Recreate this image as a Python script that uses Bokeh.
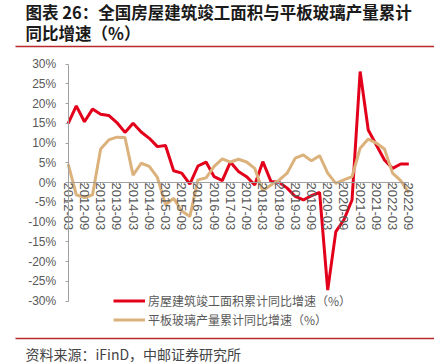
from bokeh.plotting import figure
from bokeh.models import Range1d, FixedTicker, Legend, LegendItem, Label, BoxAnnotation
from bokeh.embed import file_html
from bokeh.resources import INLINE

quarters = ["2012-03", "2012-06", "2012-09", "2012-12", "2013-03", "2013-06", "2013-09", "2013-12",
            "2014-03", "2014-06", "2014-09", "2014-12", "2015-03", "2015-06", "2015-09", "2015-12",
            "2016-03", "2016-06", "2016-09", "2016-12", "2017-03", "2017-06", "2017-09", "2017-12",
            "2018-03", "2018-06", "2018-09", "2018-12", "2019-03", "2019-06", "2019-09", "2019-12",
            "2020-03", "2020-06", "2020-09", "2020-12", "2021-03", "2021-06", "2021-09", "2021-12",
            "2022-03", "2022-06", "2022-09"]

completion = [15.0, 19.4, 15.4, 18.6, 17.3, 17.0, 15.2, 12.7,
              15.0, 12.8, 11.2, 9.1, 9.4, 3.0, 2.4, -0.4,
              4.2, 5.2, 1.5, 0.5, 5.2, 2.8, 1.5, -0.6,
              5.3, 0.3, 0.1, -1.4, -3.5, -4.4, -3.3, -2.5,
              -27.2, -12.4, -9.4, -4.4, 28.1, 13.3, 9.5, 5.7,
              3.6, 4.7, 4.7]

glass = [4.7, -3.1, -3.8, -3.1, 8.5, 10.8, 11.5, 11.4,
         1.9, 4.9, 4.1, 1.3, -5.6, -4.0, -7.2, -8.6,
         0.7, 1.2, 4.1, 6.0, 5.2, 5.9, 5.2, 3.6,
         -2.1, -0.6, 0.6, 2.4, 6.2, 7.0, 5.5, 6.8,
         2.4, -0.2, 0.7, 1.5, 8.7, 11.0, 10.0, 8.5,
         2.4, 0.5, -2.6]

x_tick_labels = ["2012-03", "2012-09", "2013-03", "2013-09", "2014-03", "2014-09", "2015-03", "2015-09",
                 "2016-03", "2016-09", "2017-03", "2017-09", "2018-03", "2018-09", "2019-03", "2019-09",
                 "2020-03", "2020-09", "2021-03", "2021-09", "2022-03", "2022-09"]
y_ticks = [-30, -25, -20, -15, -10, -5, 0, 5, 10, 15, 20, 25, 30]
y_tick_labels = ["-30%", "-25%", "-20%", "-15%", "-10%", "-5%", "0%", "5%", "10%", "15%", "20%", "25%", "30%"]

series_names = ["房屋建筑竣工面积累计同比增速（%）", "平板玻璃产量累计同比增速（%）"]
title_lines = ["图表 26：全国房屋建筑竣工面积与平板玻璃产量累计", "同比增速（%）"]
source_text = "资料来源：iFinD，中邮证券研究所"

W, H = 434, 362
# pixel layout of the chart area inside the canvas
AX_LEFT, AX_RIGHT = 67.7, 408.3     # x of first / last quarter
AX_TOP, AX_BOTTOM = 63.5, 300.7     # y of 30% / -30%
n = len(quarters) - 1
ppx = (AX_RIGHT - AX_LEFT) / n
ppy = (AX_BOTTOM - AX_TOP) / (y_ticks[-1] - y_ticks[0])
x_range = Range1d(-AX_LEFT / ppx, n + (W - AX_RIGHT) / ppx)
y_range = Range1d(y_ticks[0] - (H - AX_BOTTOM) / ppy, y_ticks[-1] + AX_TOP / ppy)

xs = list(range(len(quarters)))

p = figure(width=W, height=H, output_backend="svg", toolbar_location=None,
           x_range=x_range, y_range=y_range,
           min_border_left=0, min_border_right=0, min_border_top=0, min_border_bottom=0)
p.outline_line_color = None
p.grid.visible = False

r1 = p.line(xs, completion, line_color="#E3001B", line_width=3)
r2 = p.line(xs, glass, line_color="#DCB27C", line_width=3)

# y axis at x = first quarter
yax = p.yaxis[0]
yax.fixed_location = 0
yax.bounds = (y_ticks[0], y_ticks[-1])
yax.ticker = FixedTicker(ticks=y_ticks)
yax.major_label_overrides = {t: l for t, l in zip(y_ticks, y_tick_labels)}
yax.axis_line_color = "#A0A0A0"
yax.major_tick_line_color = "#A0A0A0"
yax.major_tick_out = 3
yax.major_tick_in = 0
yax.minor_tick_line_color = None
yax.major_label_text_font = "Liberation Sans"
yax.major_label_text_font_size = "12px"
yax.major_label_text_color = "#595959"
yax.major_label_standoff = 9

# x axis at zero
xax = p.xaxis[0]
x_tick_pos = [quarters.index(q) for q in x_tick_labels]
xax.fixed_location = 0
xax.bounds = (0, n)
xax.ticker = FixedTicker(ticks=x_tick_pos)
xax.major_label_overrides = {i: q for i, q in zip(x_tick_pos, x_tick_labels)}
xax.major_label_orientation = "vertical"
xax.axis_line_color = "#A0A0A0"
xax.major_tick_line_color = "#A0A0A0"
xax.major_tick_out = 3
xax.major_tick_in = 0
xax.minor_tick_line_color = None
xax.major_label_text_font = "Liberation Sans"
xax.major_label_text_font_size = "13px"
xax.major_label_text_color = "#595959"
xax.major_label_standoff = -3

legend = Legend(items=[LegendItem(label=series_names[0], renderers=[r1]),
                       LegendItem(label=series_names[1], renderers=[r2])],
                location=(113, 33.5), orientation="vertical",
                glyph_width=32, glyph_height=19, label_height=19, label_standoff=3,
                padding=0, margin=0, spacing=0,
                border_line_alpha=0, background_fill_alpha=0,
                label_text_font="Noto Sans CJK SC", label_text_font_size="12px",
                label_text_color="#595959")
p.add_layout(legend)

title_font = "Noto Sans CJK SC"
p.add_layout(Label(x=25, y=H - 11.5, x_units="screen", y_units="screen", text=title_lines[0],
                   text_font=title_font, text_font_size="16.5px", text_font_style="bold",
                   text_color="#1a1a1a", text_baseline="middle"))
p.add_layout(Label(x=25, y=H - 32, x_units="screen", y_units="screen", text=title_lines[1],
                   text_font=title_font, text_font_size="16.5px", text_font_style="bold",
                   text_color="#1a1a1a", text_baseline="middle"))
p.add_layout(Label(x=25, y=H - 353, x_units="screen", y_units="screen", text=source_text,
                   text_font=title_font, text_font_size="14px",
                   text_color="#444444", text_baseline="middle"))

for ytop in (46, 338):
    p.add_layout(BoxAnnotation(left=15, right=W, bottom=H - ytop - 0.75, top=H - ytop + 0.75,
                               left_units="screen", right_units="screen",
                               bottom_units="screen", top_units="screen",
                               fill_color="#B8282E", fill_alpha=1, line_alpha=0))

open("out.html", "w").write(file_html(p, INLINE))
